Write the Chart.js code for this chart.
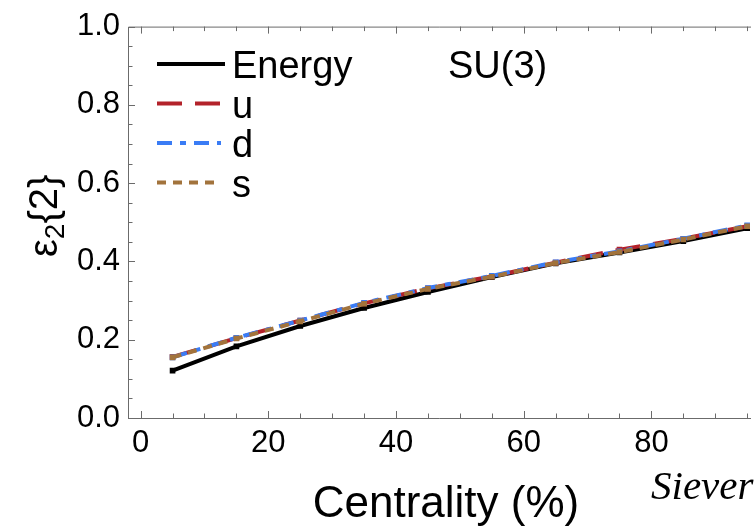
<!DOCTYPE html>
<html>
<head>
<meta charset="utf-8">
<script src="https://cdn.jsdelivr.net/npm/chart.js@4"></script>
<style>
  html, body { margin: 0; padding: 0; background: #fff; }
  #wrap { position: relative; width: 755px; height: 528px; }
</style>
</head>
<body>
<div id="wrap"><canvas id="chart" width="755" height="528"></canvas></div>
<script>
// centrality bins (%)
const centrality = [5, 15, 25, 35, 45, 55, 65, 75, 85, 95];
const energy = [0.121, 0.183, 0.235, 0.281, 0.322, 0.360, 0.395, 0.423, 0.452, 0.485];
const uQuark = [0.156, 0.204, 0.249, 0.293, 0.331, 0.362, 0.397, 0.430, 0.458, 0.490];
const dQuark = [0.155, 0.205, 0.249, 0.294, 0.332, 0.363, 0.398, 0.426, 0.458, 0.492];
const sQuark = [0.155, 0.203, 0.247, 0.292, 0.330, 0.361, 0.396, 0.424, 0.456, 0.490];

const xTicks = [0, 20, 40, 60, 80];
const yTicks = [0, 0.2, 0.4, 0.6, 0.8, 1.0];

const FONT = "'Liberation Sans', Arial, Helvetica, sans-serif";
const FRAME = '#6b6b6b';

const series = [
    { label: 'Energy', data: energy, color: '#000000', dash: [] },
    { label: 'u', data: uQuark, color: '#b3222a', dash: [25, 13] },
    { label: 'd', data: dQuark, color: '#3a7cf5', dash: [15, 8, 6, 8] },
    { label: 's', data: sQuark, color: '#a2733c', dash: [9, 7] }
];

const toPoints = (arr) => arr.map((v, i) => ({ x: centrality[i], y: v }));

// frame, inward ticks, legend, axis titles and stray page text
const decorations = {
    id: 'decorations',
    afterDraw(chart) {
        const { ctx, chartArea: a, scales: { x, y } } = chart;
        ctx.save();

        // frame
        ctx.strokeStyle = FRAME;
        ctx.lineWidth = 1;
        ctx.beginPath();
        ctx.moveTo(a.left + 0.5, a.top + 0.5);
        ctx.lineTo(a.left + 0.5, a.bottom + 0.5);
        ctx.lineTo(a.right, a.bottom + 0.5);
        ctx.moveTo(a.left + 0.5, a.top + 0.5);
        ctx.lineTo(a.right, a.top + 0.5);
        ctx.stroke();

        // x ticks (bottom pointing up, top pointing down)
        ctx.beginPath();
        for (let v = 0; v <= 100; v += 5) {
            const px = Math.round(x.getPixelForValue(v)) + 0.5;
            if (px > a.right) break;
            const len = v % 20 === 0 ? 7 : 4.5;
            ctx.moveTo(px, a.bottom);
            ctx.lineTo(px, a.bottom - len);
            ctx.moveTo(px, a.top);
            ctx.lineTo(px, a.top + len);
        }
        // y ticks (left pointing right)
        for (let k = 0; k <= 20; k++) {
            const v = k * 0.05;
            const py = Math.round(y.getPixelForValue(v)) + 0.5;
            const len = k % 4 === 0 ? 7 : 4.5;
            ctx.moveTo(a.left, py);
            ctx.lineTo(a.left + len, py);
        }
        ctx.stroke();

        // legend
        ctx.font = `38px ${FONT}`;
        ctx.textBaseline = 'alphabetic';
        ctx.textAlign = 'left';
        series.forEach((s, i) => {
            const base = 78 + i * 39.5;
            const ly = base - 14;
            ctx.strokeStyle = s.color;
            ctx.lineWidth = 4;
            ctx.setLineDash(s.dash);
            ctx.beginPath();
            ctx.moveTo(157, ly);
            ctx.lineTo(s.dash.length ? 221 : 225, ly);
            ctx.stroke();
            ctx.setLineDash([]);
            ctx.fillStyle = '#000';
            ctx.fillText(s.label, 232, base);
        });
        ctx.fillText('SU(3)', 448, 78);

        // x axis title
        ctx.font = `44px ${FONT}`;
        ctx.textAlign = 'center';
        ctx.fillText('Centrality (%)', 446, 517);
        ctx.textAlign = 'left';

        // y axis title: epsilon_2{2}
        ctx.save();
        ctx.translate(57, 257);
        ctx.rotate(-Math.PI / 2);
        ctx.fillStyle = '#000';
        ctx.font = `40px ${FONT}`;
        let cx = 0;
        ctx.fillText('\u03b5', cx, 0);
        cx += ctx.measureText('\u03b5').width;
        ctx.font = `28px ${FONT}`;
        ctx.fillText('2', cx, 7);
        cx += ctx.measureText('2').width;
        ctx.font = `40px ${FONT}`;
        ctx.fillText('{2}', cx, 0);
        ctx.restore();

        // page text next to the figure
        ctx.font = `italic 41px 'Liberation Serif', 'Times New Roman', serif`;
        ctx.fillStyle = '#000';
        ctx.fillText('Siever', 651, 499);

        ctx.restore();
    }
};

new Chart(document.getElementById('chart'), {
    type: 'line',
    data: {
        datasets: series.map((s, i) => ({
            label: s.label,
            data: toPoints(s.data),
            borderColor: s.color,
            backgroundColor: s.color,
            borderWidth: 4,
            borderDash: s.dash,
            pointStyle: 'rect',
            pointRadius: 4,
            pointBorderWidth: 0,
            tension: 0,
            order: series.length - i
        }))
    },
    options: {
        responsive: false,
        animation: false,
        layout: { padding: { top: 24, right: 0, left: 0, bottom: 0 } },
        plugins: { legend: { display: false }, tooltip: { enabled: false } },
        scales: {
            x: {
                type: 'linear',
                min: -1.98,
                max: 95.6,
                afterFit: (scale) => { scale.height = 110; },
                afterBuildTicks: (scale) => { scale.ticks = xTicks.map(v => ({ value: v })); },
                grid: { display: false, drawTicks: false },
                border: { display: false },
                ticks: {
                    color: '#000',
                    font: { family: FONT, size: 31 },
                    padding: 7,
                    maxRotation: 0,
                    autoSkip: false
                }
            },
            y: {
                min: 0,
                max: 1,
                afterFit: (scale) => { scale.width = 128; },
                afterBuildTicks: (scale) => { scale.ticks = yTicks.map(v => ({ value: v })); },
                grid: { display: false, drawTicks: false },
                border: { display: false },
                ticks: {
                    color: '#000',
                    font: { family: FONT, size: 31 },
                    padding: 8,
                    callback: (v) => v.toFixed(1)
                }
            }
        }
    },
    plugins: [decorations]
});
</script>
</body>
</html>
